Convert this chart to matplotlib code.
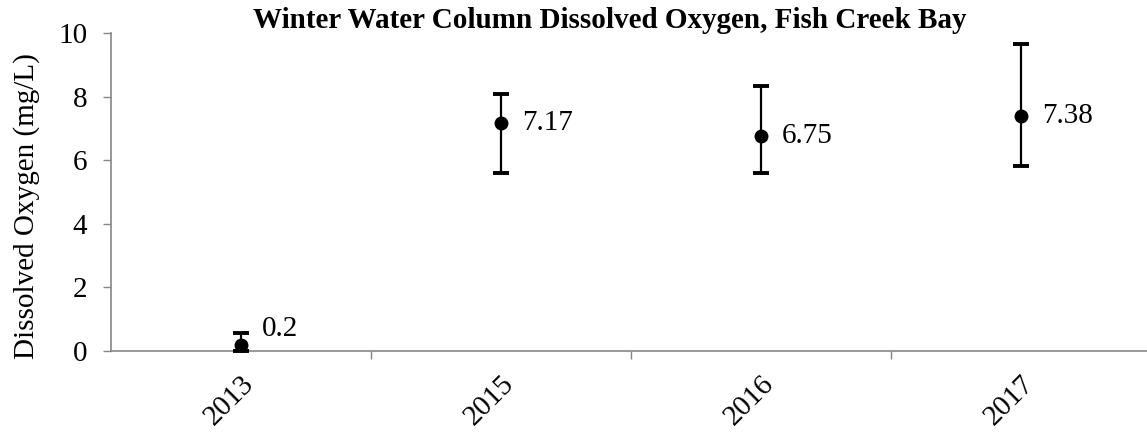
import matplotlib.pyplot as plt
import numpy as np

# data
years = ['2013', '2015', '2016', '2017']
mean_do = [0.2, 7.17, 6.75, 7.38]
err_low = [0.0, 5.59, 5.61, 5.82]
err_high = [0.58, 8.07, 8.33, 9.64]

plt.rcParams['font.family'] = ['Liberation Serif', 'DejaVu Serif']

fig = plt.figure(figsize=(11.47, 4.33), dpi=100)
W, H = 1147, 433
# axes box in pixels: left 111, right 1151, y=10 at 33, y=0 at 351
ax = fig.add_axes([111 / W, 1 - 351 / H, 1040 / W, 318 / H])

x = np.arange(len(years))
mean_arr = np.array(mean_do)
yerr = [mean_arr - np.array(err_low), np.array(err_high) - mean_arr]

ax.errorbar(x, mean_arr, yerr=yerr, fmt='o', color='black', markersize=9,
            elinewidth=1.6, capsize=5.5, capthick=2.8, zorder=3, clip_on=False)

for xi, v in zip(x, mean_do):
    dy = 16 if v < 0.5 else 0
    ax.annotate(f'{v:g}', (xi, v), xytext=(21, dy), textcoords='offset pixels',
                ha='left', va='center', fontsize=21)

ax.set_xlim(-0.5, len(years) - 0.5)
ax.set_ylim(0, 10)
ax.set_yticks(np.arange(0, 11, 2))
ax.tick_params(axis='y', labelsize=21, length=6, width=1, color='#868686', pad=11)

# category labels at centres, tick marks between categories
ax.set_xticks(x)
ax.set_xticklabels(years, rotation=45, ha='right', rotation_mode='anchor', fontsize=21)
ax.tick_params(axis='x', which='major', length=0, pad=14)
ax.set_xticks(np.arange(0.5, len(years) - 0.5, 1), minor=True)
ax.tick_params(axis='x', which='minor', length=6, width=1, color='#868686')

for s in ['top', 'right']:
    ax.spines[s].set_visible(False)
for s in ['left', 'bottom']:
    ax.spines[s].set_color('#868686')
    ax.spines[s].set_linewidth(1.2)

fig.text(27 / W, 1 - 206 / H, 'Dissolved Oxygen (mg/L)', rotation=90,
         ha='center', va='center', fontsize=21)
fig.text(610 / W, 1 - 20 / H, 'Winter Water Column Dissolved Oxygen, Fish Creek Bay',
         ha='center', va='center', fontsize=21, fontweight='bold')

fig.savefig('out.png', dpi=100)
